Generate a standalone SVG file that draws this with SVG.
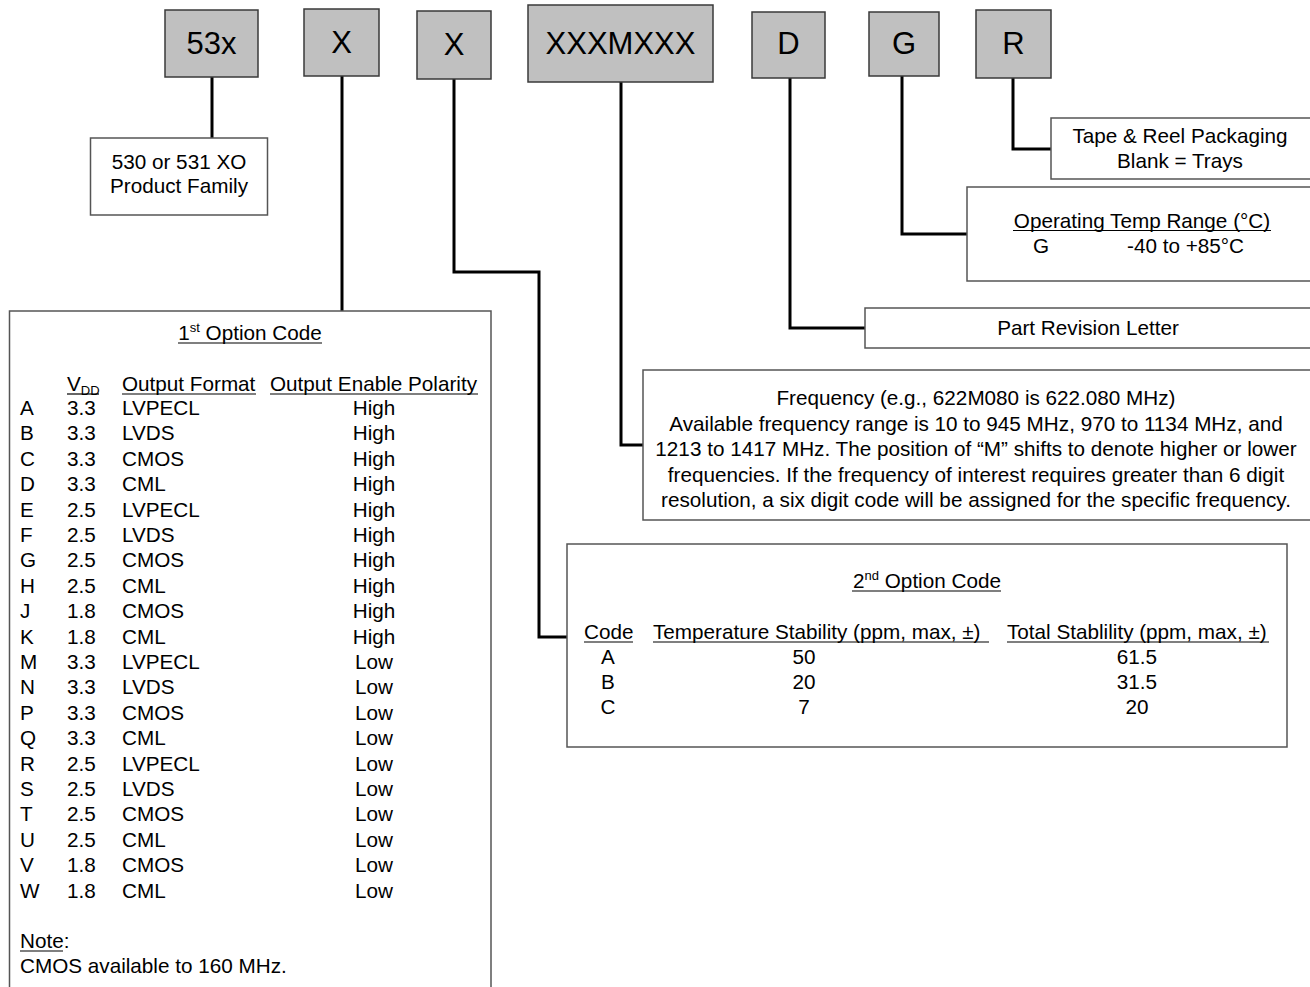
<svg xmlns="http://www.w3.org/2000/svg" width="1310" height="987" viewBox="0 0 1310 987">
<style>
text{font-family:"Liberation Sans",Arial,Helvetica,sans-serif;font-size:20.7px;fill:#000}
.code rect{fill:#c0c0c0;stroke:#3a3a3a;stroke-width:1.5}
.code text{font-size:31px;text-anchor:middle}
.box{fill:#fff;stroke:#555;stroke-width:1.5}
.c{text-anchor:middle}
.ul{stroke:#000;stroke-width:1.2}
#connectors path{fill:none;stroke:#000;stroke-width:3}
.sup{font-size:13px}
</style>
<rect width="1310" height="987" fill="#fff"/>

<g id="connectors">
<path d="M212 77 V138"/>
<path d="M342 76 V311"/>
<path d="M454 79 V272 H539 V637 H567"/>
<path d="M621 82 V445 H643"/>
<path d="M790 78 V328 H865"/>
<path d="M902 76 V234 H967"/>
<path d="M1013 78 V149 H1051"/>
</g>

<g id="code-53x" class="code"><rect x="165" y="10" width="93" height="67"/><text x="211.5" y="54">53x</text></g>
<g id="code-x1" class="code"><rect x="304" y="9" width="75" height="67"/><text x="341.5" y="53">X</text></g>
<g id="code-x2" class="code"><rect x="417" y="11" width="74" height="68"/><text x="454" y="55">X</text></g>
<g id="code-freq" class="code"><rect x="528" y="5" width="185" height="77"/><text x="620.5" y="54">XXXMXXX</text></g>
<g id="code-d" class="code"><rect x="752" y="12" width="73" height="66"/><text x="788.5" y="54">D</text></g>
<g id="code-g" class="code"><rect x="869" y="12" width="70" height="64"/><text x="904" y="54">G</text></g>
<g id="code-r" class="code"><rect x="976" y="10" width="75" height="68"/><text x="1013.5" y="54">R</text></g>

<g id="family">
<rect class="box" x="90.5" y="138" width="177" height="77"/>
<text class="c" x="179" y="169">530 or 531 XO</text>
<text class="c" x="179" y="193">Product Family</text>
</g>

<g id="packaging">
<rect class="box" x="1051" y="118" width="270" height="61"/>
<text class="c" x="1180" y="143">Tape &amp; Reel Packaging</text>
<text class="c" x="1180" y="168">Blank = Trays</text>
</g>

<g id="temp-range">
<rect class="box" x="967" y="187" width="350" height="94"/>
<text class="c" x="1142" y="228">Operating Temp Range (°C)</text>
<line class="ul" x1="1013" y1="230.5" x2="1271" y2="230.5"/>
<text x="1033" y="253">G</text>
<text x="1127" y="253">-40 to +85°C</text>
</g>

<g id="revision">
<rect class="box" x="865" y="308" width="450" height="40"/>
<text class="c" x="1088" y="335">Part Revision Letter</text>
</g>

<g id="frequency">
<rect class="box" x="643" y="370" width="680" height="150"/>
<text class="c" x="976" y="405">Frequency (e.g., 622M080 is 622.080 MHz)</text>
<text class="c" x="976" y="431">Available frequency range is 10 to 945 MHz, 970 to 1134 MHz, and</text>
<text class="c" x="976" y="456">1213 to 1417 MHz. The position of “M” shifts to denote higher or lower</text>
<text class="c" x="976" y="482">frequencies. If the frequency of interest requires greater than 6 digit</text>
<text class="c" x="976" y="507">resolution, a six digit code will be assigned for the specific frequency.</text>
</g>

<g id="option2">
<rect class="box" x="567" y="544" width="720" height="203"/>
<text class="c" x="927" y="588">2<tspan class="sup" dy="-8">nd</tspan><tspan dy="8"> Option Code</tspan></text>
<line class="ul" x1="852" y1="591" x2="1001" y2="591"/>
<text x="584" y="639">Code</text>
<text x="653" y="639">Temperature Stability (ppm, max, ±)</text>
<text x="1007" y="639">Total Stablility (ppm, max, ±)</text>
<line class="ul" x1="584" y1="642" x2="633" y2="642"/>
<line class="ul" x1="653" y1="642" x2="989" y2="642"/>
<line class="ul" x1="1007" y1="642" x2="1269" y2="642"/>
<text class="c" x="608" y="664">A</text><text class="c" x="804" y="664">50</text><text class="c" x="1137" y="664">61.5</text>
<text class="c" x="608" y="689">B</text><text class="c" x="804" y="689">20</text><text class="c" x="1137" y="689">31.5</text>
<text class="c" x="608" y="714">C</text><text class="c" x="804" y="714">7</text><text class="c" x="1137" y="714">20</text>
</g>

<g id="option1">
<rect class="box" x="9.5" y="311" width="481.5" height="700"/>
<text class="c" x="250" y="340">1<tspan class="sup" dy="-8">st</tspan><tspan dy="8"> Option Code</tspan></text>
<line class="ul" x1="178" y1="343" x2="322" y2="343"/>
<text x="67" y="391">V<tspan class="sup" dy="4">DD</tspan></text>
<text x="122" y="391">Output Format</text>
<text x="270" y="391">Output Enable Polarity</text>
<line class="ul" x1="67" y1="394" x2="99" y2="394"/>
<line class="ul" x1="122" y1="394" x2="256" y2="394"/>
<line class="ul" x1="270" y1="394" x2="478" y2="394"/>
<g>
<text x="20" y="415">A</text><text x="67" y="415">3.3</text><text x="122" y="415">LVPECL</text><text class="c" x="374" y="415">High</text>
<text x="20" y="440.4">B</text><text x="67" y="440.4">3.3</text><text x="122" y="440.4">LVDS</text><text class="c" x="374" y="440.4">High</text>
<text x="20" y="465.8">C</text><text x="67" y="465.8">3.3</text><text x="122" y="465.8">CMOS</text><text class="c" x="374" y="465.8">High</text>
<text x="20" y="491.2">D</text><text x="67" y="491.2">3.3</text><text x="122" y="491.2">CML</text><text class="c" x="374" y="491.2">High</text>
<text x="20" y="516.6">E</text><text x="67" y="516.6">2.5</text><text x="122" y="516.6">LVPECL</text><text class="c" x="374" y="516.6">High</text>
<text x="20" y="542">F</text><text x="67" y="542">2.5</text><text x="122" y="542">LVDS</text><text class="c" x="374" y="542">High</text>
<text x="20" y="567.4">G</text><text x="67" y="567.4">2.5</text><text x="122" y="567.4">CMOS</text><text class="c" x="374" y="567.4">High</text>
<text x="20" y="592.8">H</text><text x="67" y="592.8">2.5</text><text x="122" y="592.8">CML</text><text class="c" x="374" y="592.8">High</text>
<text x="20" y="618.2">J</text><text x="67" y="618.2">1.8</text><text x="122" y="618.2">CMOS</text><text class="c" x="374" y="618.2">High</text>
<text x="20" y="643.6">K</text><text x="67" y="643.6">1.8</text><text x="122" y="643.6">CML</text><text class="c" x="374" y="643.6">High</text>
<text x="20" y="669">M</text><text x="67" y="669">3.3</text><text x="122" y="669">LVPECL</text><text class="c" x="374" y="669">Low</text>
<text x="20" y="694.4">N</text><text x="67" y="694.4">3.3</text><text x="122" y="694.4">LVDS</text><text class="c" x="374" y="694.4">Low</text>
<text x="20" y="719.8">P</text><text x="67" y="719.8">3.3</text><text x="122" y="719.8">CMOS</text><text class="c" x="374" y="719.8">Low</text>
<text x="20" y="745.2">Q</text><text x="67" y="745.2">3.3</text><text x="122" y="745.2">CML</text><text class="c" x="374" y="745.2">Low</text>
<text x="20" y="770.6">R</text><text x="67" y="770.6">2.5</text><text x="122" y="770.6">LVPECL</text><text class="c" x="374" y="770.6">Low</text>
<text x="20" y="796">S</text><text x="67" y="796">2.5</text><text x="122" y="796">LVDS</text><text class="c" x="374" y="796">Low</text>
<text x="20" y="821.4">T</text><text x="67" y="821.4">2.5</text><text x="122" y="821.4">CMOS</text><text class="c" x="374" y="821.4">Low</text>
<text x="20" y="846.8">U</text><text x="67" y="846.8">2.5</text><text x="122" y="846.8">CML</text><text class="c" x="374" y="846.8">Low</text>
<text x="20" y="872.2">V</text><text x="67" y="872.2">1.8</text><text x="122" y="872.2">CMOS</text><text class="c" x="374" y="872.2">Low</text>
<text x="20" y="897.6">W</text><text x="67" y="897.6">1.8</text><text x="122" y="897.6">CML</text><text class="c" x="374" y="897.6">Low</text>
</g>
<text x="20" y="948">Note:</text>
<line class="ul" x1="20" y1="951" x2="63" y2="951"/>
<text x="20" y="973">CMOS available to 160 MHz.</text>
</g>
</svg>
